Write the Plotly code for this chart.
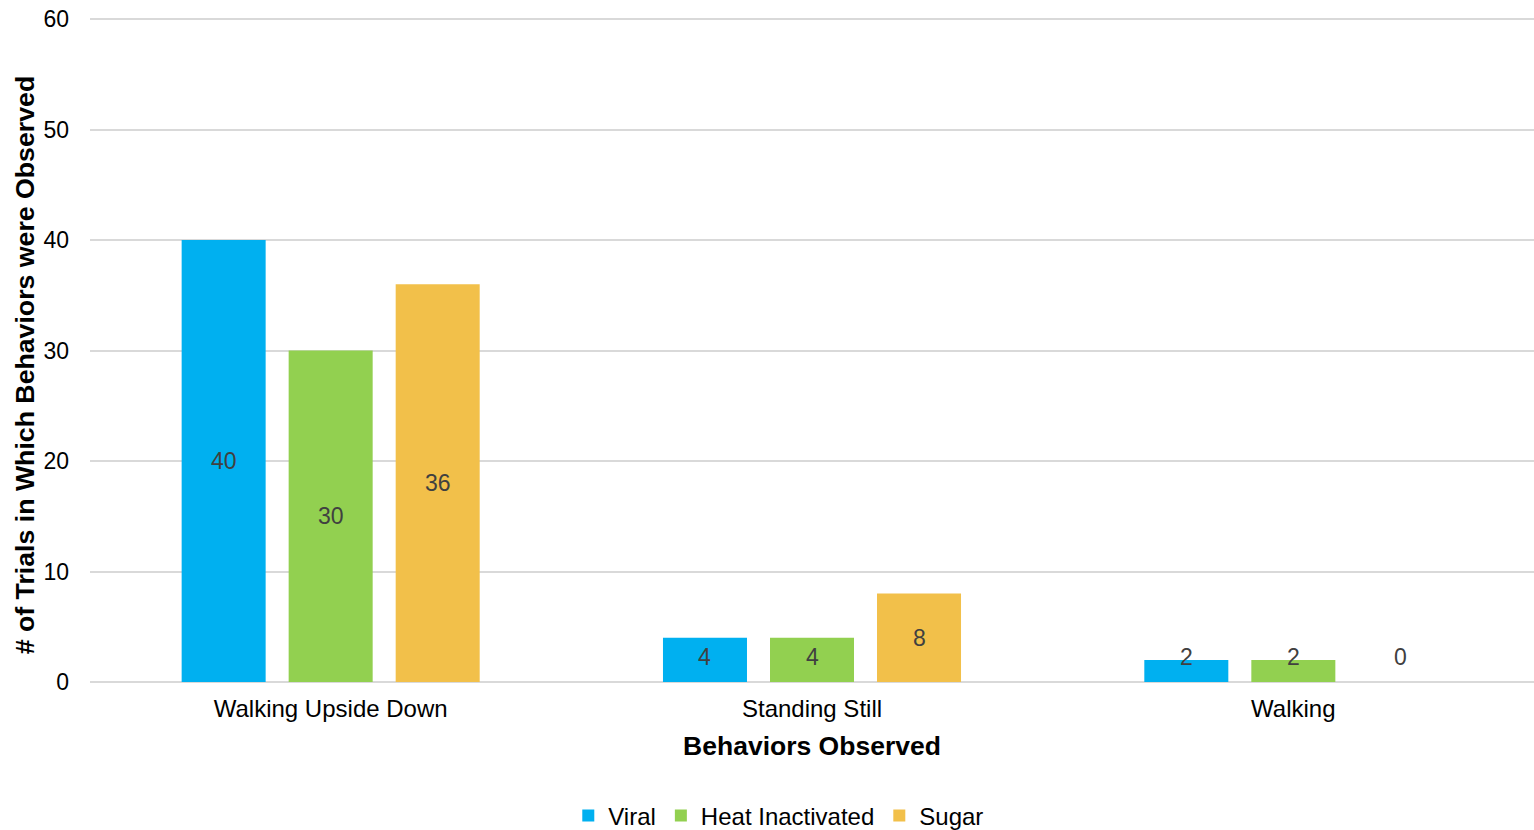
import plotly.graph_objects as go

categories = ["Walking Upside Down", "Standing Still", "Walking"]
series_names = ["Viral", "Heat Inactivated", "Sugar"]
viral = [40, 4, 2]
heat_inactivated = [30, 4, 2]
sugar = [36, 8, 0]
colors = ["#00b0f0", "#92d050", "#f2c04a"]
y_ticks = [0, 10, 20, 30, 40, 50, 60]

FONT = "Liberation Sans, Arial, sans-serif"
all_series = [viral, heat_inactivated, sugar]

BARGAP = 0.333
fig = go.Figure()
for name, vals, col in zip(series_names, all_series, colors):
    fig.add_trace(go.Bar(
        name=name, x=categories, y=vals, marker_color=col,
        marker_line_width=0, textposition="none",
    ))

# data labels, centered in bars (raised when the bar is too short)
W, L, R = 1534, 90, 0
cat_w = (W - L - R) / len(categories)
slot = cat_w * (1 - BARGAP) / 3
for i, vals in enumerate(all_series):
    shift = (i - 1) * slot
    for c, v in zip(categories, vals):
        fig.add_annotation(
            x=c, y=max(v / 2, 2.26), xref="x", yref="y", text=str(v),
            showarrow=False, xshift=shift,
            font=dict(family=FONT, size=23, color="#404040"),
        )

# y-axis title
fig.add_annotation(
    text="<b># of Trials in Which Behaviors were Observed</b>", textangle=-90,
    xref="paper", yref="paper", x=-0.045, y=0.47, xanchor="center", yanchor="middle",
    showarrow=False, font=dict(family=FONT, size=26.7, color="#000"),
)

fig.update_layout(
    width=1534, height=830,
    margin=dict(l=L, r=R, t=8, b=148, autoexpand=False),
    paper_bgcolor="white", plot_bgcolor="white",
    barmode="group", bargap=BARGAP, bargroupgap=0.215,
    font=dict(family=FONT, size=23, color="#000000"),
    xaxis=dict(
        title=dict(text="<b>Behaviors Observed</b>", font=dict(size=26.5, color="#000"), standoff=15),
        tickfont=dict(size=24, color="#000"), showgrid=False, ticks="",
        showline=False, automargin=False, ticklabelstandoff=10,
    ),
    yaxis=dict(
        range=[0, 61], tickvals=y_ticks, showgrid=True, gridcolor="#d9d9d9", gridwidth=1.5,
        zeroline=True, zerolinecolor="#d9d9d9", zerolinewidth=2,
        tickfont=dict(size=23, color="#000"), ticks="", ticklabelstandoff=20,
        automargin=False,
    ),
    legend=dict(orientation="h", x=0.477, xanchor="center", yref="container", y=0.0169, yanchor="middle",
                font=dict(size=24, color="#000"), itemwidth=30, traceorder="normal"),
)

fig.write_html("out.html")
